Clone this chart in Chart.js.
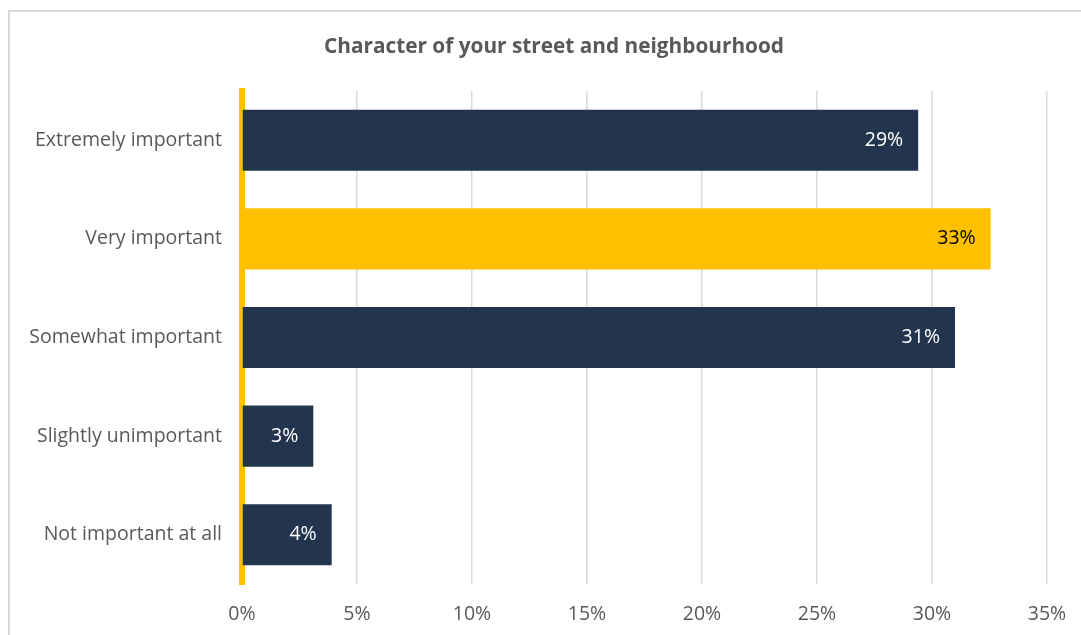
<!DOCTYPE html>
<html>
<head>
<meta charset="utf-8">
<script src="https://cdn.jsdelivr.net/npm/chart.js@4"></script>
<style>
html,body{margin:0;padding:0;background:#fff;overflow:hidden;}
#frame{position:absolute;left:8px;top:10px;width:1200px;height:800px;border:2px solid #d9d9d9;box-sizing:border-box;}
#wrap{position:absolute;left:0;top:0;width:1081px;height:635px;}
</style>
</head>
<body>
<div id="frame"></div>
<div id="wrap"><canvas id="c"></canvas></div>
<script>
const categories = ["Extremely important","Very important","Somewhat important","Slightly unimportant","Not important at all"];
const values = [29.4, 32.55, 31.0, 3.1, 3.9];
const barColors = ["#22344E","#FFC000","#22344E","#22344E","#22344E"];
const labelColors = ["#FFFFFF","#000000","#FFFFFF","#FFFFFF","#FFFFFF"];
const tickValues = [0,5,10,15,20,25,30,35];
const titleText = "Character of your street and neighbourhood";

const FONT = "'Open Sans'";

const dataLabels = {
  id:'dataLabels',
  afterDatasetsDraw(chart){
    const ctx = chart.ctx;
    const meta = chart.getDatasetMeta(0);
    ctx.save();
    ctx.font = "19.5px " + FONT;
    ctx.textAlign = "right";
    ctx.textBaseline = "middle";
    meta.data.forEach((bar,i)=>{
      ctx.fillStyle = labelColors[i];
      ctx.fillText(Math.round(values[i]) + "%", bar.x - 15, bar.y);
    });
    ctx.restore();
  }
};

const chartTitle = {
  id:'chartTitle',
  afterDraw(chart){
    const ctx = chart.ctx;
    ctx.save();
    ctx.font = "bold 20.8px " + FONT;
    ctx.fillStyle = "#595959";
    ctx.textAlign = "center";
    ctx.textBaseline = "middle";
    ctx.fillText(titleText, 554, 47);
    ctx.restore();
  }
};

new Chart(document.getElementById('c'), {
  type:'bar',
  data:{
    labels:categories,
    datasets:[{data:values, backgroundColor:barColors, barPercentage:0.62, categoryPercentage:1.0}]
  },
  options:{
    indexAxis:'y',
    responsive:true,
    maintainAspectRatio:false,
    animation:false,
    layout:{padding:{left:0,right:34,top:91,bottom:0}},
    plugins:{
      legend:{display:false},
      tooltip:{enabled:false},
      title:{display:false}
    },
    scales:{
      x:{
        min:0,max:35,
        afterBuildTicks(scale){ scale.ticks = tickValues.map(v=>({value:v})); },
        ticks:{color:"#595959",font:{family:FONT,size:19.5},padding:19,callback:v=>v+"%"},
        grid:{color:"#d9d9d9",lineWidth:1.5,drawTicks:false},
        border:{display:false},
        afterFit(scale){ scale.height = 51; scale.paddingLeft = 0; scale.paddingRight = 0; }
      },
      y:{
        z:1,
        ticks:{color:"#595959",font:{family:FONT,size:19.5},padding:20},
        grid:{display:false,drawTicks:false},
        border:{display:true,color:"#FFC000",width:6},
        afterFit(scale){ scale.width = 242; }
      }
    }
  },
  plugins:[dataLabels, chartTitle]
});
</script>
</body>
</html>
